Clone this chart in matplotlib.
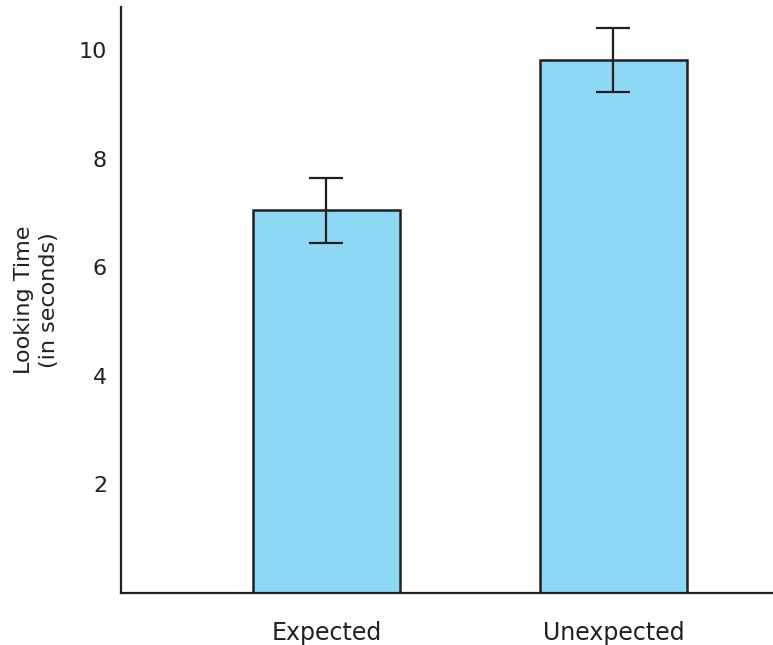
import matplotlib.pyplot as plt

conditions = ["Expected", "Unexpected"]
looking_time = [7.05, 9.83]
errors = [0.6, 0.59]
yticks = [2, 4, 6, 8, 10]

fig = plt.figure(figsize=(7.73, 6.45), dpi=100)
ax = fig.add_axes([121 / 773, 1 - 593 / 645, (773 - 121) / 773, (593 - 7) / 645])

x = list(range(len(conditions)))
ax.bar(x, looking_time, width=0.512, color="#8ED8F5", edgecolor="#231F20",
       linewidth=1.8, zorder=2)
ax.errorbar(x, looking_time, yerr=errors, fmt="none", ecolor="#231F20",
            elinewidth=1.6, capsize=12, capthick=1.6, zorder=3)

ax.set_xlim(-0.716, 1.556)
ax.set_ylim(0, 10.8)
ax.set_xticks(x)
ax.set_xticklabels(conditions, fontsize=17)
ax.set_yticks(yticks)
ax.tick_params(axis="both", length=0, colors="#231F20")
ax.tick_params(axis="y", pad=10, labelsize=16)
ax.tick_params(axis="x", pad=20)
ax.set_ylabel("Looking Time\n(in seconds)", fontsize=16, color="#231F20",
              linespacing=1.35, labelpad=14)

for side in ["top", "right"]:
    ax.spines[side].set_visible(False)
for side in ["left", "bottom"]:
    ax.spines[side].set_linewidth(1.6)
    ax.spines[side].set_color("#231F20")

fig.savefig("out.png", dpi=100)
